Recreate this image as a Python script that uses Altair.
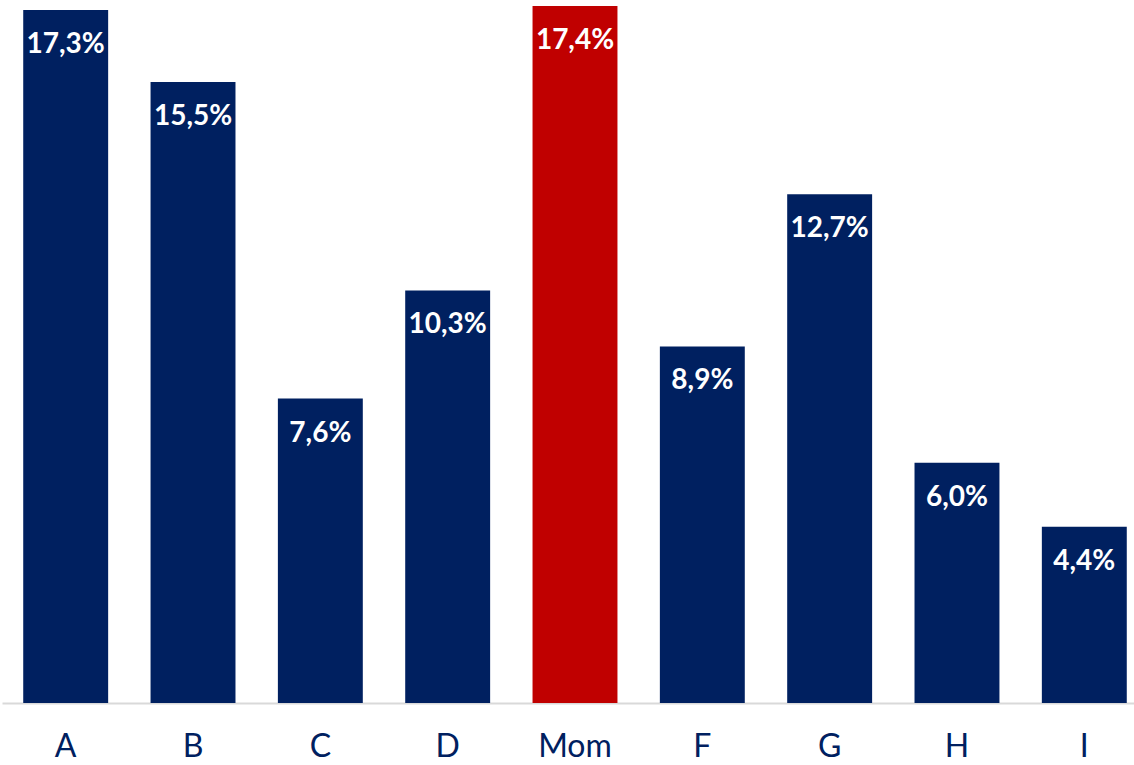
import altair as alt
import pandas as pd

categories = ["A", "B", "C", "D", "Mom", "F", "G", "H", "I"]
values = [17.3, 15.5, 7.6, 10.3, 17.4, 8.9, 12.7, 6.0, 4.4]
highlight = "Mom"

df = pd.DataFrame({
    "cat": categories,
    "val": values,
    "label": [f"{v:.1f}%".replace(".", ",") for v in values],
    "hl": ["yes" if c == highlight else "no" for c in categories],
})

x = alt.X("cat:N", sort=categories, title=None,
          scale=alt.Scale(range=[2, 1148], paddingInner=0.333, paddingOuter=0.1667),
          axis=alt.Axis(labelAngle=0, ticks=False, labelPadding=53,
                        labelBaseline="alphabetic", labelFont="Lato",
                        labelFontSize=32, labelColor="#002060",
                        domainColor="#d9d9d9", domainWidth=2, grid=False))
y = alt.Y("val:Q", scale=alt.Scale(domain=[0, 17.4], nice=False, zero=True),
          axis=None)

bars = alt.Chart(df).mark_bar().encode(
    x=x, y=y,
    color=alt.Color("hl:N", scale=alt.Scale(domain=["no", "yes"], range=["#002060", "#C00000"]), legend=None),
)
text = alt.Chart(df).mark_text(baseline="alphabetic", align="center", dy=43,
                               font="Lato", fontWeight="bold", fontSize=28,
                               color="white").encode(
    x=alt.X("cat:N", sort=categories), y=y, text="label:N")

chart = (bars + text).properties(
    width=1134, height=697,
    autosize=alt.AutoSizeParams(type="none"),
    padding={"top": 6, "left": 0, "right": 0, "bottom": 62},
    background="white",
).configure_view(stroke=None)

chart.save("out.html", embed_options={"renderer": "svg", "actions": False})
